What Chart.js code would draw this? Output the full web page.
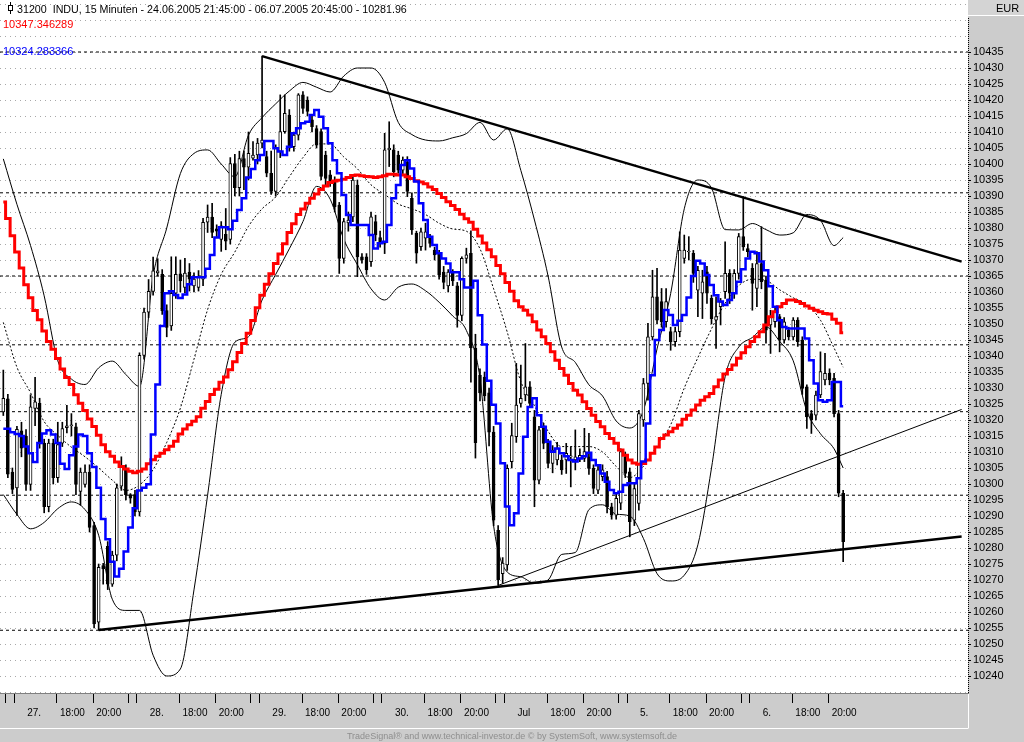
<!DOCTYPE html>
<html>
<head>
<meta charset="utf-8">
<script src="https://cdn.jsdelivr.net/npm/chart.js@4.4.1/dist/chart.umd.min.js"></script>
<style>
  body { margin: 0; background: #cccccc; }
  #wrap { position: relative; width: 1024px; height: 742px; overflow: hidden; font-family: "Liberation Sans", Arial, sans-serif; }
  #c { position: absolute; left: 0; top: 0; }
  .t { position: absolute; white-space: pre; line-height: 12px; }
  #icon { position: absolute; left: 8px; top: 5px; width: 3px; height: 4px; border: 1px solid #000; background: #fff; }
  #iconw { position: absolute; left: 10px; top: 2px; width: 1px; height: 12px; background: #000; }
</style>
</head>
<body>
<div id="wrap">
  <canvas id="c" width="1024" height="742"></canvas>
  <div id="iconw"></div><div id="icon"></div>
  <div class="t" style="left:17px;top:3px;font-size:10.7px;color:#000">31200  INDU, 15 Minuten - 24.06.2005 21:45:00 - 06.07.2005 20:45:00 - 10281.96</div>
  <div class="t" style="left:3px;top:18px;font-size:11px;color:#ff0000">10347.346289</div>
  <div class="t" style="left:3px;top:45px;font-size:11px;color:#0000ff">10324.283366</div>
  <div class="t" style="left:996px;top:2px;font-size:11px;color:#000">EUR</div>
  <div class="t" style="left:0;top:730px;width:1024px;text-align:center;font-size:9px;color:#8e8e8e">TradeSignal® and www.technical-investor.de © by SystemSoft, www.systemsoft.de</div>
</div>
<script>
// 15-minute bars, INDU, 24.06.2005 21:45 - 06.07.2005 20:45 (index = bar number)
openP = [10322.5,10326.6,10303.7,10298.8,10316.6,10315,10299.9,10323.6,10325.2,10312.8,
  10292.9,10312.8,10302,10312.8,10317.6,10318.2,10317.9,10297.7,10299.9,10303.7,
  10287,10256.8,10274.5,10280.5,10268.7,10277.8,10299.3,10304.7,10296.7,10296.7,
  10291.3,10340.2,10353.7,10360.2,10366,10365.5,10354.2,10349.4,10359.6,10365.7,
  10361.4,10366.2,10361.9,10361.4,10364,10381.8,10383.4,10379.6,10376.4,10378,
  10376.4,10400.1,10392.6,10401.7,10399,10401.8,10402.8,10406.5,10402.3,10397.1,
  10391.4,10403.9,10410.1,10415.3,10405.4,10409,10421.6,10420,10413.8,10411.1,
  10410.1,10402.8,10396.6,10395,10387.2,10370.5,10381.6,10383.5,10393.4,10371,
  10371,10369.5,10382,10377,10375.2,10404.4,10404.4,10402.8,10398.1,10400.7,
  10389.3,10378.3,10374.2,10376.8,10377.3,10373.1,10372.1,10366.2,10361.9,10366.2,
  10361.9,10352.7,10370.5,10372.1,10342.5,10334,10333.4,10328.5,10316.2,10285.5,
  10272,10274.7,10307,10314.8,10325.2,10327.8,10330.4,10321,10301.2,10317.4,
  10312.7,10306.4,10307.5,10307.5,10307.5,10308.5,10307.5,10308,10308,10308.5,
  10304.9,10298.1,10302.3,10302.3,10292.9,10290.3,10294,10308.5,10303.8,10288.7,
  10293.9,10320,10331.4,10346,10358.5,10357,10350.7,10347.6,10344.5,10347.6,
  10370.5,10372.5,10372.1,10360.6,10359.6,10366.3,10358,10351.2,10355.4,10360.1,
  10365.8,10359.6,10365.8,10377.3,10373.6,10367.4,10361.1,10368.9,10363.7,10349.7,
  10350.7,10352.3,10345,10348.1,10346,10351.2,10345,10330.4,10322,10321.5,
  10327.8,10332.5,10334.6,10333,10322,10297.1];
highP = [10335.6,10328,10305,10318,10319.3,10317,10327.9,10333.3,10326.8,10314,
  10314,10314,10319.3,10319.3,10324.6,10322,10319,10305,10306,10306,
  10288,10275,10275.2,10282,10279,10300,10308.5,10306,10297,10298,
  10341,10355,10363.9,10370.9,10370.4,10367,10356,10371,10371,10370,
  10370.5,10368.9,10366,10366.7,10383,10387.2,10387.7,10381,10382,10386.1,
  10402,10403,10404,10404,10410,10407,10408,10433.7,10404,10404,
  10406,10421.6,10421.6,10417,10410,10422,10422.6,10421,10415,10412,
  10411,10404,10398,10396,10388,10383,10385,10396,10395,10372,
  10372,10385,10384,10379,10409.6,10413.2,10406,10404,10402.2,10402.3,
  10391,10379,10380,10381.5,10378,10374,10373,10368,10367,10367,
  10363,10371,10373.7,10379.1,10346.8,10336,10335,10330,10318,10287,
  10277,10306,10319,10337.7,10337.2,10343.9,10332,10323,10318,10319,
  10314,10312,10313,10309,10312.7,10311.6,10316.9,10311,10317.4,10315.8,
  10306,10305.5,10306,10304,10294,10297,10311,10310,10305,10300,
  10323,10333,10350.2,10366.8,10367.4,10361.1,10361.1,10349,10349,10378.8,
  10377.8,10377.3,10373,10368,10366.8,10368,10359,10358.5,10358,10375.7,
  10367,10367,10378.3,10389.8,10375,10368.9,10372.6,10380.4,10365,10354.3,
  10355,10353,10352,10349,10352,10352,10346,10331,10323,10329,
  10341.3,10340.8,10336,10334.6,10323,10298];
lowP = [10321.4,10302,10297,10290.2,10308.5,10298,10298,10318.2,10311.2,10291,
  10291.3,10300,10300.5,10311.7,10316,10315,10296.7,10293.4,10299,10285,
  10255,10254.4,10268.7,10267,10268,10276,10298,10295,10294,10290,
  10290,10339,10352,10359,10365,10353,10346,10348,10358,10360,
  10359.7,10360.3,10360,10360.3,10362,10378.6,10377,10377,10372.7,10373.2,
  10375,10390,10390,10392,10395,10401.2,10400,10405,10396,10390.5,
  10390,10402,10409.6,10404,10404,10407.5,10415.8,10415,10410,10405,
  10395,10393,10393,10385,10365.8,10369,10379,10382,10364.8,10369,
  10365.5,10368,10376,10374,10372,10399.2,10396,10397.1,10397,10389.8,
  10378,10369,10373,10373.1,10374,10370,10364,10361,10360,10362,
  10349,10351,10369,10331.8,10308.1,10326,10326,10311.9,10287,10268.3,
  10269,10273,10305,10313,10324,10326,10324,10292.9,10300,10311,
  10305,10303.5,10306,10303,10303.3,10299.1,10304.4,10307,10307,10303,
  10297,10297,10301,10291,10289,10289,10292,10302,10283.5,10287,
  10291.8,10318,10326.2,10345,10350,10349,10349,10341.8,10343,10346,
  10369,10370,10363,10352.3,10351.7,10356.4,10350,10342.4,10349.7,10358,
  10356.4,10358,10364,10373,10371,10354.3,10355.4,10361,10344,10340.8,
  10349,10341.3,10344,10345,10345,10343,10328,10317.4,10315.8,10320,
  10327,10331,10331,10321,10296,10275.7];
closeP = [10326.8,10303.1,10298.3,10317.1,10311.2,10299.9,10324.1,10325.7,10312.8,10292.9,
  10312.8,10302,10312.3,10317.3,10318.2,10318.3,10299.9,10303.7,10303.7,10286.4,
  10256.3,10274,10273.5,10268.7,10277.8,10298.8,10305.8,10296.7,10295.6,10291.3,
  10340.2,10353.7,10360.2,10366.6,10366.6,10354.2,10348.9,10359.6,10365.5,10363.5,
  10365.9,10364,10364,10364.6,10381.8,10383.4,10378.6,10379,10380.7,10375.9,
  10400.1,10392.6,10401.7,10399,10403.3,10402.8,10406.5,10407.5,10397.1,10391.4,
  10404.9,10410.1,10415.8,10405.4,10409,10421.6,10417.4,10416.4,10411.7,10405.9,
  10396.1,10395.5,10394.5,10386.7,10370.5,10382,10382.5,10395,10371,10370,
  10366.9,10383.5,10377.8,10375.5,10404.4,10405,10397.6,10398.1,10401.2,10391.4,
  10379.4,10372.1,10378.8,10378.8,10375.2,10371.6,10365.3,10363,10366.2,10363.5,
  10352.7,10370.5,10371.6,10342.5,10312.9,10328.5,10327.5,10316.2,10288.7,10270,
  10275.3,10304.9,10315.1,10324.7,10326.8,10330.4,10325.2,10301.2,10316.9,10312.7,
  10306.4,10310.6,10311.1,10304.4,10309.6,10308.8,10308.5,10309,10310.1,10304.9,
  10298.6,10304.4,10304.4,10292.9,10290.3,10295.5,10310.1,10303.3,10288.2,10298.6,
  10322,10331.4,10346,10358.5,10351.2,10350.7,10357,10344.5,10347.6,10373.1,
  10373.1,10372.6,10365.8,10366.8,10363.2,10359.6,10351.7,10352.3,10356.9,10365.8,
  10359.6,10365.8,10377.3,10374.1,10372.6,10362.7,10368.9,10363.2,10348.1,10352.3,
  10353.8,10345,10350.7,10346,10351.2,10344.5,10329.9,10321,10320,10327.8,
  10335.1,10334.6,10332.5,10322,10297.1,10281.96];

// short moving average (blue) and long moving average (red), one value per bar
blueMA = [10317.3,10317.3,10316.2,10315.6,10315,10311.7,10309.6,10306.9,10312.8,10315.8,
  10316.8,10315.5,10312.8,10306.3,10304.7,10309,10311.7,10315.5,10315,10309.6,
  10305.3,10298.8,10289.1,10282.7,10275.7,10271.1,10273.5,10278.9,10286.4,10292.4,
  10298,10298.8,10299.9,10315.5,10331.1,10349.4,10359.6,10360.2,10359.1,10358.1,
  10359.2,10362.4,10364.6,10364.6,10364.6,10367.3,10371.6,10377,10380.2,10380.2,
  10379.6,10382.3,10385.6,10389.3,10395.8,10398.4,10401.2,10402.8,10407.2,10407.2,
  10404.9,10403.9,10402.8,10405.4,10409.6,10411.2,10412.7,10413.2,10415.3,10416.9,
  10414.8,10411.2,10406.5,10401.2,10397.1,10390.3,10384.1,10380.9,10380.9,10380.9,
  10380.9,10377.8,10373.6,10375.2,10375.7,10380.9,10389.3,10393.4,10399.7,10401.2,
  10398.6,10394.5,10387.7,10382.5,10377.3,10374.7,10372.1,10370.5,10368.9,10366.2,
  10366.2,10364,10361.4,10361.4,10363.5,10352.7,10343.6,10332.3,10324.8,10318.9,
  10306.5,10293,10287.1,10290.9,10303.3,10314.8,10324.1,10326.8,10321.5,10317.9,
  10313.2,10310.1,10311.1,10309.6,10308.7,10307.5,10307,10308,10308.7,10309.8,
  10307.5,10305.9,10303.3,10300.7,10298.1,10297.1,10297.6,10299.7,10300.2,10300.2,
  10301.8,10307,10318.9,10334,10345,10348.1,10354.4,10352.8,10349.7,10351,
  10352.8,10358.3,10365,10369.8,10368.9,10365.3,10362.2,10359,10357,10355.9,
  10357.5,10359.6,10363.2,10367.1,10370.5,10372.6,10372.1,10369.5,10366.8,10361.8,
  10355.4,10351.2,10349.1,10348.6,10348.6,10348.6,10348.6,10345.5,10338.7,10331.4,
  10326.2,10325.7,10326.2,10331.9,10331.9,10324.3];
redMA = [10388.1,10383,10377.6,10372.5,10367.5,10362.3,10358.2,10354.2,10351.3,10347.8,
  10344.5,10342.1,10339.2,10335.9,10333.3,10331.1,10327.9,10325.2,10323,10320.3,
  10318,10315.2,10312.3,10310.1,10308.7,10306.9,10305.5,10304.7,10304,10303.5,
  10304,10304.7,10306.3,10307.6,10308.7,10309.6,10310.7,10311.8,10313.4,10315.6,
  10317.2,10318.5,10319.6,10321,10323.7,10325.8,10328,10329.6,10331.8,10333.4,
  10335.7,10338.2,10341.1,10343.9,10347.1,10351.1,10355.1,10359,10362.4,10365.7,
  10368.9,10371.9,10375.1,10378.6,10381.3,10384.2,10385.9,10387.7,10389.3,10390.6,
  10392,10393.1,10394.2,10394.7,10394.9,10395.2,10395.8,10396.4,10396.6,10396.3,
  10396.1,10396,10395.8,10396,10396.3,10396.8,10396.8,10396.6,10396.6,10396,
  10395.5,10394.8,10394.4,10393.8,10392.8,10392,10390.8,10389.5,10388.2,10387,
  10385.8,10384.3,10382.9,10381.8,10379.6,10377.5,10375.3,10373.2,10371,10368.3,
  10365.7,10363,10360.2,10357.3,10355.4,10354.3,10352.8,10350.7,10348.1,10346,
  10343.9,10341.3,10338.7,10336.1,10334,10331.4,10329.3,10327.8,10325.7,10323.6,
  10321.5,10319.5,10317.9,10315.8,10314.2,10312.7,10310.6,10309,10307.5,10306.6,
  10306.2,10306.4,10307.5,10309.6,10311.6,10314.2,10315.3,10316.3,10317.4,10318.4,
  10320.2,10321.5,10323.1,10324.7,10326.2,10327.3,10328.3,10330.4,10332.5,10334.4,
  10335.8,10337.2,10339.3,10341,10342.9,10344.5,10346,10347.6,10349.7,10352.3,
  10353.8,10355.4,10356.4,10357.5,10357.5,10357,10356.4,10355.6,10354.9,10354.3,
  10353.8,10353.3,10353.1,10351.5,10350.2,10347.3];

// Bollinger bands read every third bar
bandIdx = [0,3,6,9,12,15,18,21,24,27,30,33,36,39,42,45,48,51,54,57,60,63,66,69,72,75,78,81,84,87,
  90,93,96,99,102,105,108,111,114,117,120,123,126,129,132,135,138,141,144,147,150,153,156,159,162,
  165,168,171,174,177,180,183,185];
bandUpper = [10401.6,10387.4,10374.5,10358.8,10338.5,10332.8,10331.1,10336.3,10338.4,10334.2,
  10330.5,10365,10380,10397,10403.3,10404.4,10400,10396,10409,10414.5,
  10418.8,10422.8,10425.5,10424,10422.5,10427.5,10430,10430,10425.5,10413,
  10409.2,10407.5,10407.2,10408.2,10409.5,10413,10407.5,10411,10398,10382.5,
  10365,10342.8,10338,10331,10327.5,10319.7,10317.5,10323,10342.2,10359.5,
  10386,10395,10392.5,10379.5,10379.4,10381.4,10379.5,10377.8,10378.5,10384.2,
  10382.4,10374.5,10377];
bandMiddle = [10350.5,10336.5,10328.5,10319.5,10315.2,10311.5,10308.5,10305,10301.2,10298,
  10299.7,10304.5,10313,10323.7,10339,10354.5,10365.5,10372.5,10380.5,10386,
  10389.7,10396,10402,10406.3,10406.2,10402.2,10398.5,10393.5,10390.5,10387.5,
  10386,10384.2,10381.5,10379.7,10379,10373.5,10361,10347.5,10332,10324.5,
  10316.5,10311.7,10311.7,10311.7,10310,10305.5,10302,10305.5,10312,10318.5,
  10330,10339.5,10348.5,10356.5,10362,10364,10363.6,10360.7,10358.2,10356,
  10351.2,10342.5,10336.5];
bandLower = [10296.7,10290.5,10286,10288,10292.3,10294.4,10292,10284,10264,10260.5,
  10260.5,10246.5,10240,10242.2,10266.9,10296.5,10328,10344.3,10346,10357.5,
  10365.5,10373.5,10382,10393,10389,10376.5,10368.5,10361,10357.5,10361.5,
  10362.5,10360.4,10356.8,10352.5,10348,10333,10287,10272.5,10271,10269,
  10270,10278,10278.6,10292,10293.5,10290.6,10290,10283,10272,10269.7,
  10271.5,10281,10305,10333.5,10342.8,10345.8,10349.1,10344.6,10338.5,10322.8,
  10315.7,10311,10305];

// drawn trend lines [bar, price] pairs and horizontal support/resistance levels
topTrend = [[57, 10433.7], [211.1, 10369.5]];
bottomTrend = [[21, 10254.4], [211.1, 10283.6]];
thinTrend = [[109, 10268.3], [211.1, 10323.3]];
hLevels = [10435, 10391, 10365, 10343.5, 10322.6, 10296.5, 10254.3];

// time axis
dayStarts = [2, 29, 56, 83, 110, 137, 164];
dayNames = ['27.', '28.', '29.', '30.', 'Jul', '5.', '6.'];
xMin = -0.73;
xMax = 212.5;
yMin = 10234.69;
yMax = 10451.25;

xTicks = [];
dayStarts.forEach(function (s, k) {
  xTicks.push({ v: s - 1.5, label: '', mark: true });
  xTicks.push({ v: s + 0.4, label: '', mark: true });
  xTicks.push({ v: s + 2.6, label: dayNames[k], mark: false });
  xTicks.push({ v: s + 9.8, label: '18:00', mark: true });
  xTicks.push({ v: s + 17.8, label: '20:00', mark: true });
});

yTicks = [];
for (var v = 10235; v <= 10450; v += 5) yTicks.push(v);

function pts(vals, idx) {
  return vals.map(function (y, i) { return { x: idx ? idx[i] : i, y: y }; });
}
function seg(p) {
  return p.map(function (q) { return { x: q[0], y: q[1] }; });
}

wicks = closeP.map(function (c, i) { return { x: i, y: [lowP[i], highP[i]] }; });
bodies = closeP.map(function (c, i) { return { x: i, y: [Math.min(openP[i], c), Math.max(openP[i], c)] }; });
bodyFill = closeP.map(function (c, i) { return c >= openP[i] ? '#ffffff' : '#000000'; });

datasets = [
  { type: 'line', data: pts(bandUpper, bandIdx), borderColor: '#000', borderWidth: 1, pointRadius: 0, cubicInterpolationMode: 'monotone', order: 8 },
  { type: 'line', data: pts(bandLower, bandIdx), borderColor: '#000', borderWidth: 1, pointRadius: 0, cubicInterpolationMode: 'monotone', order: 8 },
  { type: 'line', data: pts(bandMiddle, bandIdx), borderColor: '#000', borderWidth: 1, borderDash: [2, 2], pointRadius: 0, cubicInterpolationMode: 'monotone', order: 8 }
];
hLevels.forEach(function (h) {
  datasets.push({ type: 'line', data: [{ x: xMin, y: h }, { x: xMax, y: h }], borderColor: '#000', borderWidth: 1, borderDash: [3, 3], pointRadius: 0, order: 9 });
});
datasets.push(
  { type: 'bar', data: wicks, backgroundColor: '#000', barThickness: 1, grouped: false, order: 4 },
  { type: 'bar', data: bodies, backgroundColor: bodyFill, borderColor: '#000', borderWidth: 1, borderSkipped: false, barThickness: 3, minBarLength: 1, grouped: false, order: 3 },
  { type: 'line', data: pts(redMA), borderColor: '#ff0000', borderWidth: 3, stepped: 'middle', pointRadius: 0, borderJoinStyle: 'miter', order: 2 },
  { type: 'line', data: pts(blueMA), borderColor: '#0000ff', borderWidth: 2.5, stepped: 'middle', pointRadius: 0, borderJoinStyle: 'miter', order: 1 },
  { type: 'line', data: seg(topTrend), borderColor: '#000', borderWidth: 2.5, pointRadius: 0, order: 0 },
  { type: 'line', data: seg(bottomTrend), borderColor: '#000', borderWidth: 2.5, pointRadius: 0, order: 0 },
  { type: 'line', data: seg(thinTrend), borderColor: '#000', borderWidth: 1, pointRadius: 0, order: 0 }
);

frame = {
  id: 'frame',
  beforeDraw: function (chart) {
    var ctx = chart.ctx, a = chart.chartArea;
    ctx.save();
    ctx.fillStyle = '#cccccc';
    ctx.fillRect(0, 0, chart.width, chart.height);
    ctx.fillStyle = '#ffffff';
    ctx.fillRect(a.left, a.top, a.right - a.left, a.bottom - a.top);
    // bevel of the time axis panel
    ctx.strokeStyle = '#ffffff';
    ctx.beginPath();
    ctx.moveTo(0, 728.5); ctx.lineTo(a.right, 728.5);
    ctx.moveTo(a.right + 0.5, a.bottom); ctx.lineTo(a.right + 0.5, 728.5);
    ctx.stroke();
    // EUR header box
    ctx.fillStyle = '#d4d4d4';
    ctx.fillRect(a.right, 0, chart.width - a.right, 15);
    ctx.strokeStyle = '#ffffff';
    ctx.beginPath(); ctx.moveTo(a.right, 15.5); ctx.lineTo(chart.width, 15.5); ctx.stroke();
    ctx.restore();
  },
  afterDraw: function (chart) {
    var ctx = chart.ctx, a = chart.chartArea;
    ctx.save();
    ctx.strokeStyle = '#000';
    ctx.setLineDash([1, 1]);
    ctx.beginPath();
    ctx.moveTo(a.right + 0.5, 18); ctx.lineTo(a.right + 0.5, a.bottom);
    ctx.stroke();
    ctx.restore();
  }
};

new Chart(document.getElementById('c'), {
  type: 'bar',
  data: { datasets: datasets },
  options: {
    responsive: false,
    devicePixelRatio: 1,
    animation: false,
    layout: { padding: 0 },
    plugins: { legend: { display: false }, tooltip: { enabled: false } },
    scales: {
      x: {
        type: 'linear', min: xMin, max: xMax, offset: false,
        afterBuildTicks: function (s) { s.ticks = xTicks.map(function (t) { return { value: t.v }; }); },
        afterFit: function (s) { s.height = 49; s.paddingLeft = 0; s.paddingRight = 0; },
        ticks: {
          autoSkip: false, maxRotation: 0, minRotation: 0, align: 'start', labelOffset: 3, padding: 4,
          color: '#000', font: { family: 'Liberation Sans', size: 10 },
          callback: function (val, i) { return xTicks[i] ? xTicks[i].label : ''; }
        },
        grid: {
          offset: false, drawOnChartArea: false, drawTicks: true, tickLength: 10, tickBorderDash: [],
          tickColor: function (ctx) { return xTicks[ctx.index] && xTicks[ctx.index].mark ? '#000' : 'rgba(0,0,0,0)'; }
        },
        border: { display: true, color: '#808080' }
      },
      y: {
        position: 'right', min: yMin, max: yMax,
        afterBuildTicks: function (s) { s.ticks = yTicks.map(function (t) { return { value: t }; }); },
        afterFit: function (s) { s.width = 56; s.paddingTop = 0; s.paddingBottom = 0; },
        ticks: {
          autoSkip: false, padding: 2, color: '#000', font: { family: 'Liberation Sans', size: 11 },
          callback: function (val) { return (val >= 10240 && val <= 10435) ? String(val) : ''; }
        },
        grid: {
          color: '#a8a8a8', lineWidth: 1, drawTicks: true, tickLength: 3, tickBorderDash: [],
          tickColor: function (ctx) { return ctx.tick && ctx.tick.value >= 10240 && ctx.tick.value <= 10435 ? '#000' : 'rgba(0,0,0,0)'; }
        },
        border: { display: false, dash: [1, 4] }
      }
    }
  },
  plugins: [frame]
});
</script>
</body>
</html>
